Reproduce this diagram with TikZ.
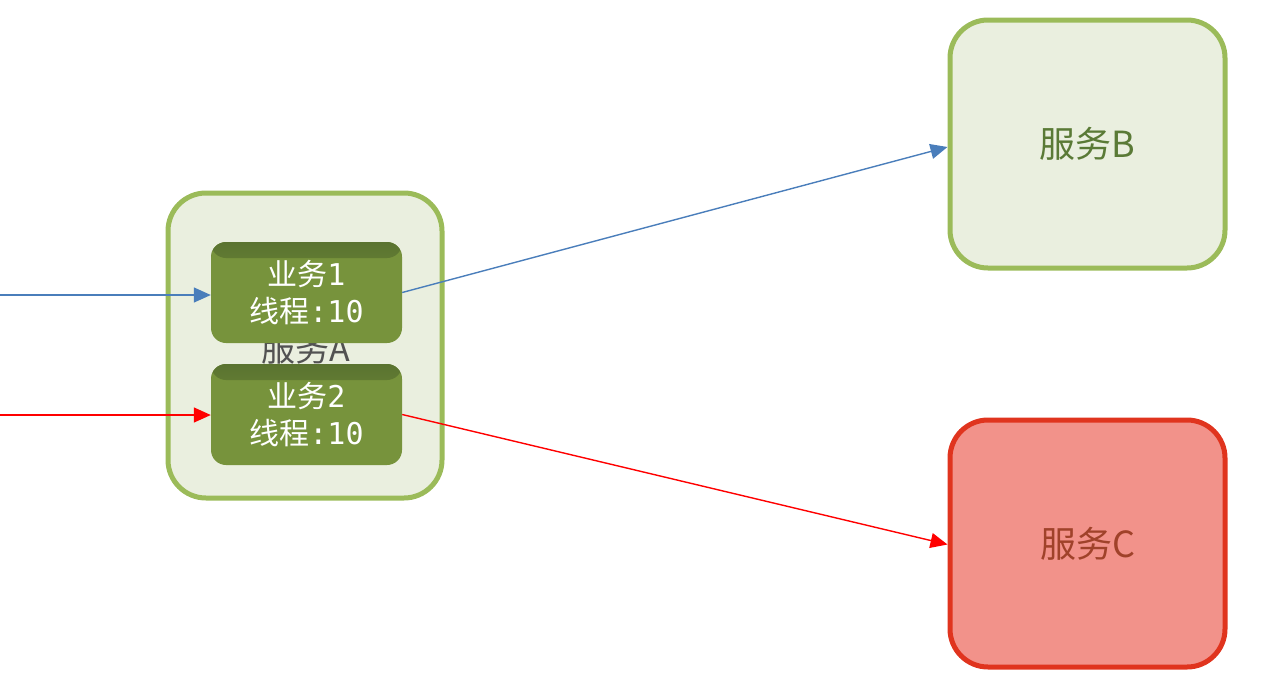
\documentclass[tikz,border=0pt]{standalone}
\usepackage{fontspec}
\setmainfont{Noto Sans CJK SC}
\newfontfamily\cjk{Noto Sans CJK SC}
\newfontfamily\dmono{DejaVu Sans Mono}
\usetikzlibrary{arrows.meta}
\definecolor{gfill}{HTML}{EAEFDF}
\definecolor{gline}{HTML}{9BBB59}
\definecolor{inner}{HTML}{77933C}
\definecolor{innerdark}{HTML}{5A7330}
\definecolor{cfill}{HTML}{F2928A}
\definecolor{cline}{HTML}{E0341E}
\definecolor{btext}{HTML}{5A7A36}
\definecolor{ctext}{HTML}{A0422A}
\definecolor{bluearr}{HTML}{4A7EBB}
\definecolor{redarr}{HTML}{FF0000}
\tikzset{
  svc/.style={rounded corners=38pt, line width=5pt, inner sep=0pt, font=\cjk\fontsize{36}{40}\selectfont},
  biz/.style={rounded corners=15pt, fill=inner, minimum width=191pt, minimum height=101pt, inner sep=0pt, text=white, align=center, font=\fontsize{30}{37}\selectfont,
    path picture={\shade[top color=innerdark, bottom color=inner, middle color=inner!70!innerdark] (path picture bounding box.north west) rectangle ([yshift=-16pt]path picture bounding box.north east);}},
  conn/.style={line width=1.4pt, -{Triangle[length=17pt,width=15pt]}},
}
\begin{document}
\begin{tikzpicture}[x=1pt,y=-1pt]
\useasboundingbox (0,0) rectangle (1264,675);
% service A
\node[svc, draw=gline, fill=gfill, minimum width=274pt, minimum height=305pt] (A) at (305,345.5) {};
\node[font=\cjk\fontsize{34}{38}\selectfont, text=black!68] (Alabel) at (306,349) {服务A};
% service B and C
\node[svc, draw=gline, fill=gfill, minimum width=275pt, minimum height=248pt, text=btext] (B) at (1087.5,144) {服务B};
\node[svc, draw=cline, fill=cfill, minimum width=275pt, minimum height=247pt, text=ctext] (C) at (1087.5,543.5) {服务C};
% business boxes
\node[biz] (b1) at (306.5,292.5) {{\cjk 业务}{\dmono 1}\\{\cjk 线程}{\dmono :10}};
\node[biz] (b2) at (306.5,414.5) {{\cjk 业务}{\dmono 2}\\{\cjk 线程}{\dmono :10}};
% inputs
\coordinate (in1) at (0,295);
\coordinate (in2) at (0,415);
\draw[conn, bluearr] (in1) -- (in1 -| b1.west);
\draw[conn, redarr] (in2) -- (in2 -| b2.west);
\draw[conn, bluearr] (b1.east) -- ([yshift=-3pt]B.west);
\draw[conn, redarr] (b2.east) -- ([yshift=-1pt]C.west);
\end{tikzpicture}
\end{document}
